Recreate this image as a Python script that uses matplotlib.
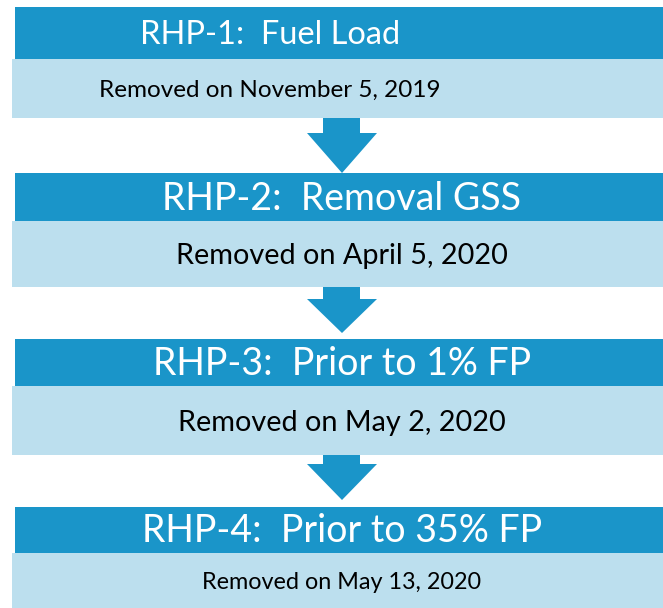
import matplotlib.pyplot as plt
from matplotlib.patches import Rectangle, Polygon

# Step texts
titles = ["RHP-1:  Fuel Load", "RHP-2:  Removal GSS",
          "RHP-3:  Prior to 1% FP", "RHP-4:  Prior to 35% FP"]
subtitles = ["Removed on November 5, 2019", "Removed on April 5, 2020",
             "Removed on May 2, 2020", "Removed on May 13, 2020"]

# Layout (pixels, y downwards)
dark_top = [7, 173, 339, 507]
light_top = [59, 221, 386, 553]
light_bot = [118, 287, 455, 608]
text_x = [270, 342, 342, 342]
title_size = [23.5, 27, 27, 27]
sub_size = [17.5, 20.8, 20.8, 16.8]
arrow_head = [133, 299, 464]
arrow_tip = [173, 333, 500]

DARK = "#1a95c9"
LIGHT = "#bcdfee"

fig = plt.figure(figsize=(6.63, 6.08), dpi=100)
ax = fig.add_axes([0, 0, 1, 1])
ax.set_xlim(0, 663)
ax.set_ylim(608, 0)
ax.axis("off")

font = "Lato"

for i in range(4):
    ax.add_patch(Rectangle((15, dark_top[i]), 663 - 15, light_top[i] - dark_top[i],
                           color=DARK, lw=0))
    ax.add_patch(Rectangle((12, light_top[i]), 663 - 12, light_bot[i] - light_top[i],
                           color=LIGHT, lw=0))
    ax.text(text_x[i], (dark_top[i] + light_top[i]) / 2 + 1.5, titles[i],
            color="white", fontsize=title_size[i], family=font,
            ha="center", va="center")
    ax.text(text_x[i], (light_top[i] + light_bot[i]) / 2 + 2, subtitles[i],
            color="black", fontsize=sub_size[i], family=font,
            ha="center", va="center")

# Arrows between the steps
for i in range(3):
    top = light_bot[i]
    h, t = arrow_head[i], arrow_tip[i]
    pts = [(323, top), (360, top), (360, h), (377, h), (342, t),
           (307, h), (323, h)]
    ax.add_patch(Polygon(pts, closed=True, color=DARK, lw=0))

fig.savefig("out.png", dpi=100)
